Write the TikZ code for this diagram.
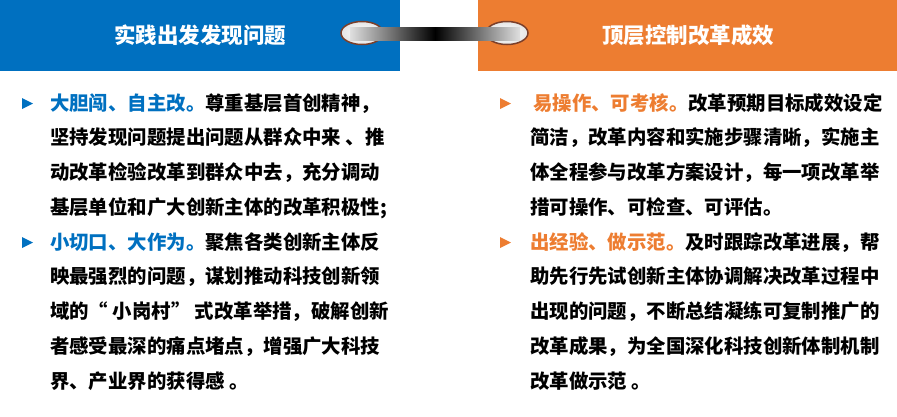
\documentclass[tikz,border=0pt]{standalone}
\usepackage{fontspec}
\usetikzlibrary{shapes.geometric}
\setmainfont{Noto Sans CJK SC}
\definecolor{cblue}{HTML}{0070C0}
\definecolor{corange}{HTML}{ED7D31}
\definecolor{cbrown}{HTML}{7B3F2A}
\begin{document}
\begin{tikzpicture}[x=1bp,y=-1bp,
  txt/.style={anchor=base west,inner sep=0pt,font=\bfseries\fontsize{19.4bp}{20bp}\selectfont},
  head/.style={text=white,font=\bfseries\fontsize{21.5bp}{24bp}\selectfont},
  ring/.style={draw=cbrown,line width=1.5bp,inner color=white,outer color=gray!20,ellipse,minimum width=42bp,minimum height=23bp,inner sep=0pt}]
\useasboundingbox (0,0) rectangle (897,416);
\fill[cblue] (0,0) rectangle (400,71);
\fill[corange] (478,0) rectangle (897,71);
\node[head] (h1) at (200,35) {实践出发发现问题};
\node[head] (h2) at (688,35) {顶层控制改革成效};
\node[ring] (e1) at (362,33) {};
\node[ring] (e2) at (507,33) {};
\shade[left color=gray!25,right color=gray!25,middle color=black] (350,27) rectangle (520,40);
\foreach \yy/\c/\xx in {110/cblue/22,249/cblue/22,110/corange/500,249/corange/500}
  \fill[\c] (\xx,\yy-12) -- (\xx+11,\yy-6.5) -- (\xx,\yy-1) -- cycle;
\def\dy{34.75}
\node[txt] (l1) at (50,110) {\textcolor{cblue}{大胆闯、自主改。}尊重基层首创精神，};
\node[txt] (l2) at (50,110+\dy) {坚持发现问题提出问题从群众中来 、推};
\node[txt] (l3) at (50,110+2*\dy) {动改革检验改革到群众中去，充分调动};
\node[txt] (l4) at (50,110+3*\dy) {基层单位和广大创新主体的改革积极性;};
\node[txt] (l5) at (50,110+4*\dy) {\textcolor{cblue}{小切口、大作为。}聚焦各类创新主体反};
\node[txt] (l6) at (50,110+5*\dy) {映最强烈的问题，谋划推动科技创新领};
\node[txt] (l7) at (50,110+6*\dy) {域的“ 小岗村” 式改革举措，破解创新};
\node[txt] (l8) at (50,110+7*\dy) {者感受最深的痛点堵点，增强广大科技};
\node[txt] (l9) at (50,110+8*\dy) {界、产业界的获得感 。};
\node[txt] (r1) at (533,110) {\textcolor{corange}{易操作、可考核。}改革预期目标成效设定};
\node[txt] (r2) at (530,110+\dy) {简洁，改革内容和实施步骤清晰，实施主};
\node[txt] (r3) at (530,110+2*\dy) {体全程参与改革方案设计，每一项改革举};
\node[txt] (r4) at (530,110+3*\dy) {措可操作、可检查、可评估。};
\node[txt] (r5) at (530,110+4*\dy) {\textcolor{corange}{出经验、做示范。}及时跟踪改革进展，帮};
\node[txt] (r6) at (530,110+5*\dy) {助先行先试创新主体协调解决改革过程中};
\node[txt] (r7) at (530,110+6*\dy) {出现的问题，不断总结凝练可复制推广的};
\node[txt] (r8) at (530,110+7*\dy) {改革成果，为全国深化科技创新体制机制};
\node[txt] (r9) at (530,110+8*\dy) {改革做示范 。};
\end{tikzpicture}
\end{document}
